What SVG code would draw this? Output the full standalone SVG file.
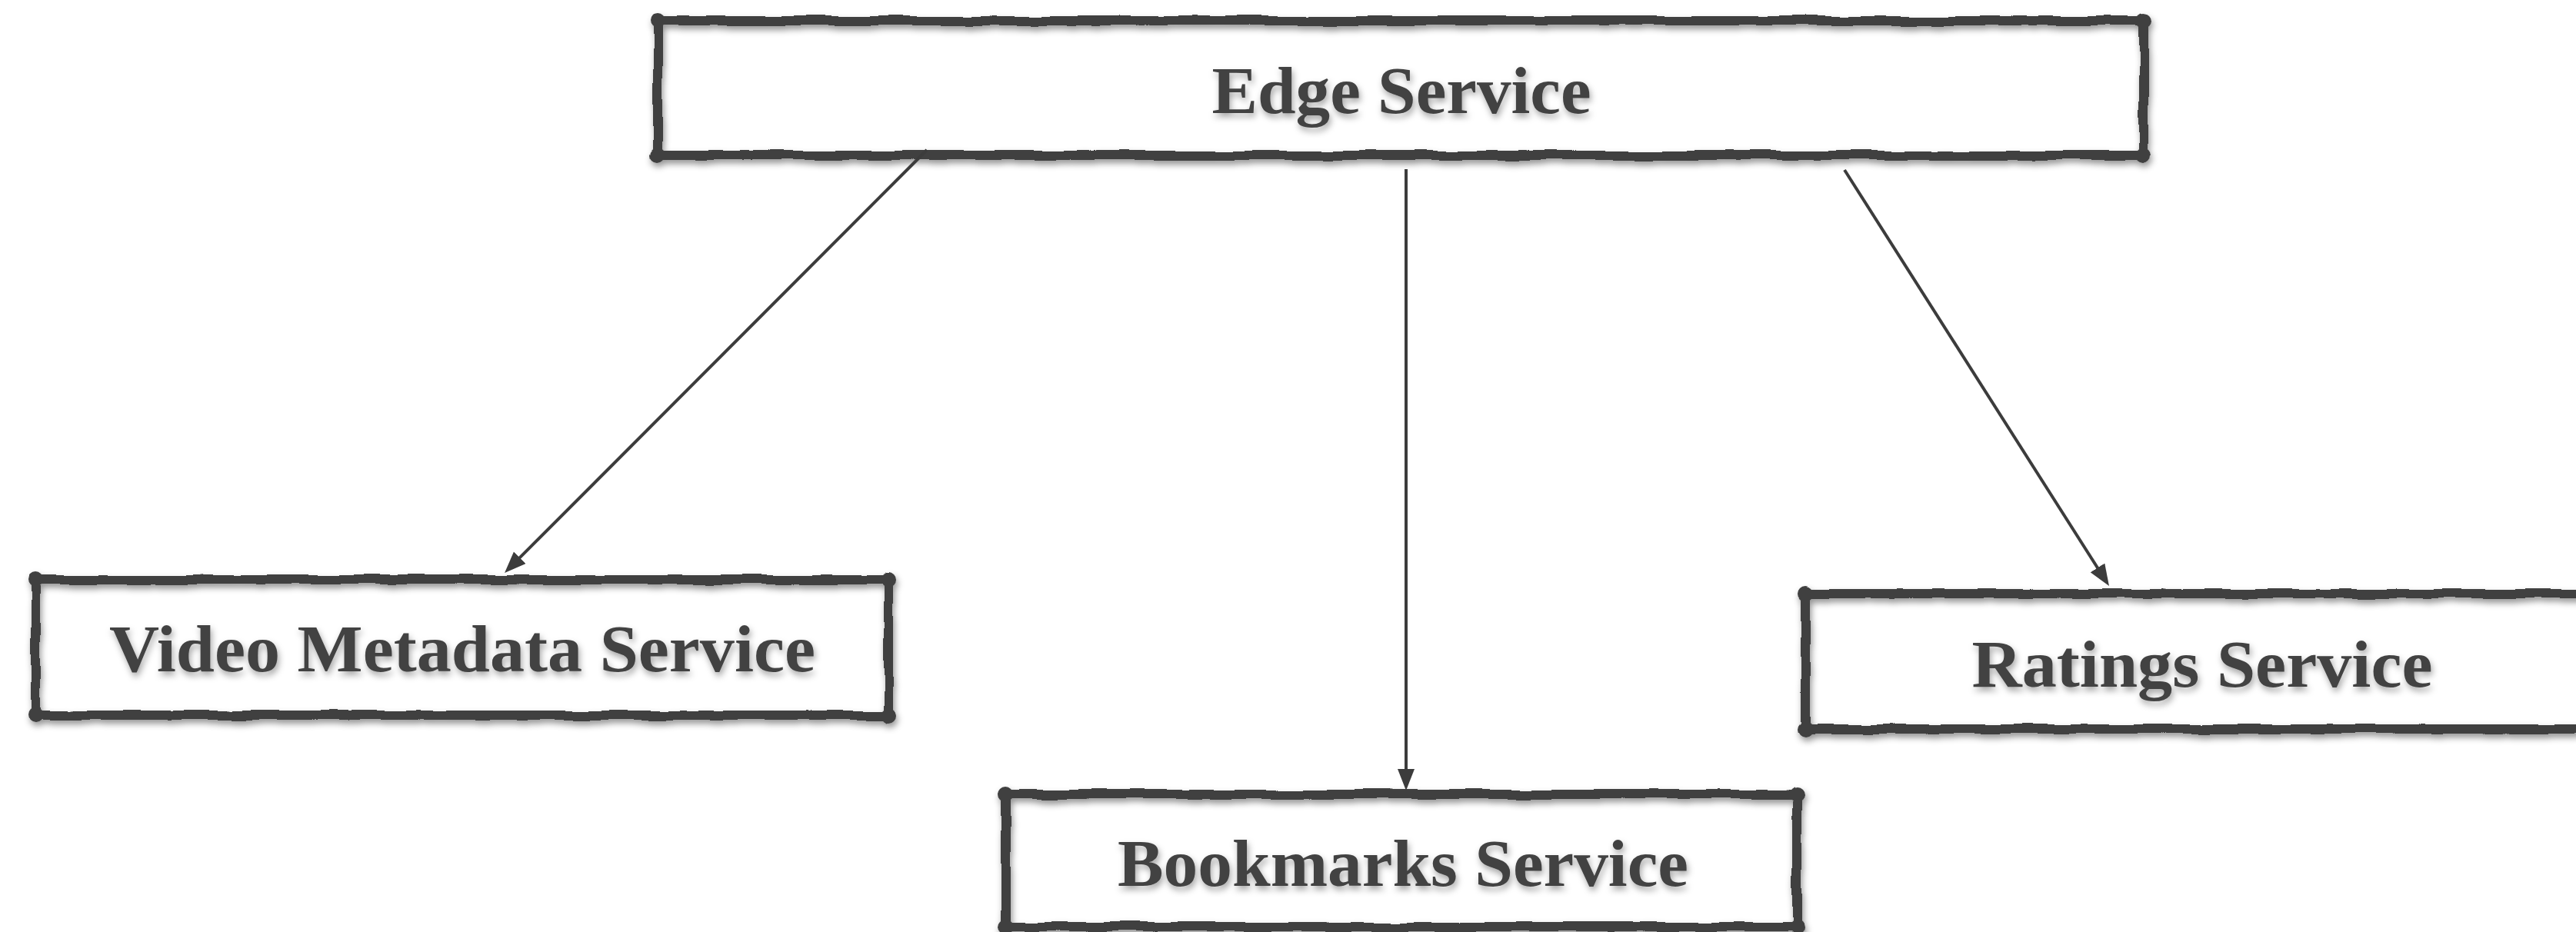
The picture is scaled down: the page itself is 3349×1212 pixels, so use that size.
<svg xmlns="http://www.w3.org/2000/svg" width="3349" height="1212" viewBox="0 0 3349 1212">
  <defs>
    <!-- hand-drawn wobble for box frames, plus a soft drop shadow -->
    <filter id="rough" x="-4%" y="-20%" width="108%" height="140%">
      <feTurbulence type="fractalNoise" baseFrequency="0.018" numOctaves="2" seed="7" result="noise"/>
      <feDisplacementMap in="SourceGraphic" in2="noise" scale="7" xChannelSelector="R" yChannelSelector="G" result="wobble"/>
      <feDropShadow in="wobble" dx="2" dy="5" stdDeviation="4" flood-color="#000" flood-opacity="0.42"/>
    </filter>
    <filter id="textShadow" x="-5%" y="-30%" width="110%" height="160%">
      <feDropShadow dx="2" dy="5" stdDeviation="4" flood-color="#000" flood-opacity="0.35"/>
    </filter>
    <marker id="arrow" markerUnits="userSpaceOnUse" markerWidth="32" markerHeight="26" refX="12" refY="11" orient="auto">
      <path d="M0,0 L28,11 L0,22 Z" fill="#3c3c3c"/>
    </marker>
  </defs>
  <style>
    .bg { fill: #ffffff; }
    .frame rect { fill: none; stroke: #404040; stroke-width: 12; }
    .frame circle { fill: #404040; }
    .label { font-family: "Liberation Serif", "Times New Roman", serif; font-weight: bold; font-size: 86px; fill: #434343; text-anchor: middle; }
    .link { fill: none; stroke: #3c3c3c; stroke-width: 4; marker-end: url(#arrow); }
  </style>

  <rect class="bg" x="0" y="0" width="3349" height="1212"/>

  <!-- Edge Service -->
  <g id="edge-service">
    <rect class="bg" x="855" y="27" width="1932" height="175"/>
    <g class="frame" filter="url(#rough)">
      <rect x="855" y="27" width="1932" height="175"/>
      <circle cx="855" cy="27" r="10"/><circle cx="2787" cy="27" r="10"/>
      <circle cx="855" cy="202" r="10"/><circle cx="2787" cy="202" r="10"/>
    </g>
    <text class="label" filter="url(#textShadow)" x="1822" y="147" textLength="493" lengthAdjust="spacingAndGlyphs">Edge Service</text>
  </g>

  <!-- Video Metadata Service -->
  <g id="video-metadata-service">
    <rect class="bg" x="46" y="754" width="1109" height="176"/>
    <g class="frame" filter="url(#rough)">
      <rect x="46" y="754" width="1109" height="176"/>
      <circle cx="46" cy="754" r="10"/><circle cx="1155" cy="754" r="10"/>
      <circle cx="46" cy="930" r="10"/><circle cx="1155" cy="930" r="10"/>
    </g>
    <text class="label" filter="url(#textShadow)" x="601" y="873" textLength="918" lengthAdjust="spacingAndGlyphs">Video Metadata Service</text>
  </g>

  <!-- Ratings Service (runs past the right edge) -->
  <g id="ratings-service">
    <rect class="bg" x="2347" y="772" width="1040" height="176"/>
    <g class="frame" filter="url(#rough)">
      <rect x="2347" y="772" width="1040" height="176"/>
      <circle cx="2347" cy="772" r="10"/>
      <circle cx="2347" cy="948" r="10"/>
    </g>
    <text class="label" filter="url(#textShadow)" x="2863" y="893" textLength="599" lengthAdjust="spacingAndGlyphs">Ratings Service</text>
  </g>

  <!-- Bookmarks Service -->
  <g id="bookmarks-service">
    <rect class="bg" x="1308" y="1033" width="1028" height="172"/>
    <g class="frame" filter="url(#rough)">
      <rect x="1308" y="1033" width="1028" height="172"/>
      <circle cx="1308" cy="1033" r="10"/><circle cx="2336" cy="1033" r="10"/>
      <circle cx="1308" cy="1205" r="10"/><circle cx="2336" cy="1205" r="10"/>
    </g>
    <text class="label" filter="url(#textShadow)" x="1824" y="1152" textLength="742" lengthAdjust="spacingAndGlyphs">Bookmarks Service</text>
  </g>

  <!-- connectors -->
  <g id="connectors">
    <line class="link" x1="1205" y1="195" x2="667.3" y2="733.7"/>
    <line class="link" x1="1828" y1="220" x2="1828" y2="1012"/>
    <line class="link" x1="2398" y1="221" x2="2733.4" y2="748.5"/>
  </g>
</svg>
